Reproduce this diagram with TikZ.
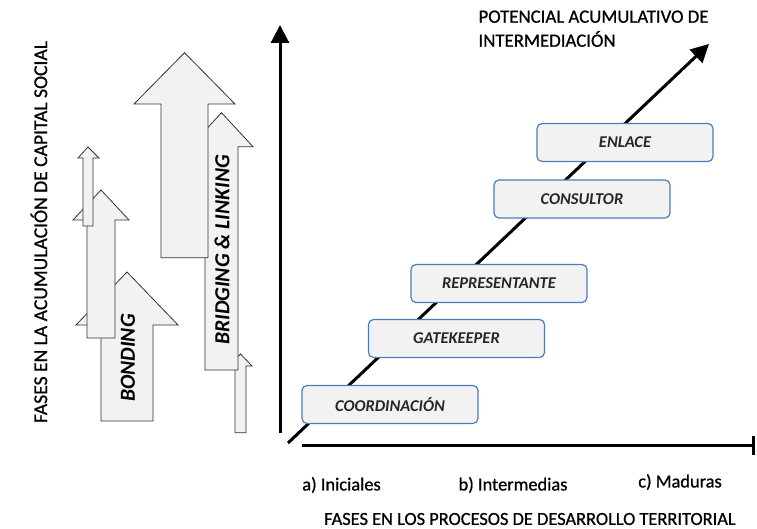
\documentclass[tikz,border=0pt]{standalone}
\usepackage{fontspec}
\setmainfont{Carlito}
\newfontfamily\labfont{Carlito}[FakeBold=0.8]
\usetikzlibrary{arrows.meta,positioning}
\definecolor{boxfill}{HTML}{F2F2F2}
\definecolor{boxline}{HTML}{4A7EBB}
\begin{document}
\begin{tikzpicture}[x=1pt,y=-1pt,>={Triangle[length=18pt,width=18pt]},
 fase/.style={draw=boxline,fill=boxfill,line width=1.2pt,rounded corners=5pt,minimum width=176pt,minimum height=38pt,font=\fontsize{16.5}{18}\selectfont\bfseries\itshape,text=black!85},
 blk/.style={draw=black!80,fill=boxfill,line width=0.8pt},
 eje/.style={line width=3pt},
 lab/.style={font=\labfont\fontsize{18.4}{24}\selectfont},
 blab/.style={font=\fontsize{21.5}{24}\selectfont\bfseries\itshape,rotate=90}]
\useasboundingbox (0,0) rectangle (757,529);
% ejes
\coordinate (orig) at (280,433);
\coordinate (ytop) at (280,25);
\coordinate (x0) at (302,445);
\coordinate (xend) at (755,445);
\coordinate (d0) at (288,443);
\coordinate (d1) at (709,44);
\draw[eje,->] (orig) -- (ytop);
\draw[eje,-{Bar[width=19pt]}] (x0) -- (xend);
\draw[eje,->] (d0) -- (d1);
% flechas bridging & linking
\draw[blk] (235,432.7) -- (235,366) -- (229,366) -- (240.5,354) -- (252,366) -- (246,366) -- (246,432.7) -- cycle;
\draw[blk] (205,370) -- (205,146.7) -- (190,146.7) -- (221.5,112.7) -- (253,146.7) -- (238,146.7) -- (238,370) -- cycle;
\draw[blk] (161,257.7) -- (161,104) -- (134,104) -- (184.5,52.7) -- (235,104) -- (208,104) -- (208,257.7) -- cycle;
\node[blab] (bridging) at (222,250) {BRIDGING \& LINKING};
% flechas bonding
\draw[blk] (101,421) -- (101,325) -- (76,325) -- (127,272) -- (178,325) -- (153,325) -- (153,421) -- cycle;
\draw[blk] (87,338) -- (87,220) -- (73,220) -- (101,190) -- (129,220) -- (115,220) -- (115,338) -- cycle;
\draw[blk] (83,226) -- (83,158) -- (78,158) -- (88,147) -- (99,158) -- (93,158) -- (93,226) -- cycle;
\node[blab] (bonding) at (128,358) {BONDING};
% fases
\node[fase] (coord) at (390,404.5) {COORDINACIÓN};
\node[fase] (gate) at (456.5,338.5) {GATEKEEPER};
\node[fase] (repr) at (499,283.5) {REPRESENTANTE};
\node[fase] (cons) at (582,199) {CONSULTOR};
\node[fase] (enl) at (625,142.5) {ENLACE};
% textos
\node[lab] (ini) at (341.5,485) {a) Iniciales};
\node[lab] (inter) at (513,485) {b) Intermedias};
\node[lab] (mad) at (680,482) {c) Maduras};
\node[lab] (xlab) at (530,519) {FASES EN LOS PROCESOS DE DESARROLLO TERRITORIAL};
\node[lab,font=\labfont\fontsize{19.6}{24}\selectfont,rotate=90] (ylab) at (39,232) {FASES EN LA ACUMULACIÓN DE CAPITAL SOCIAL};
\node[lab,font=\labfont\fontsize{18.8}{24}\selectfont,align=left,anchor=north west] (pot) at (475,7) {POTENCIAL ACUMULATIVO DE\\INTERMEDIACIÓN};
\end{tikzpicture}
\end{document}
